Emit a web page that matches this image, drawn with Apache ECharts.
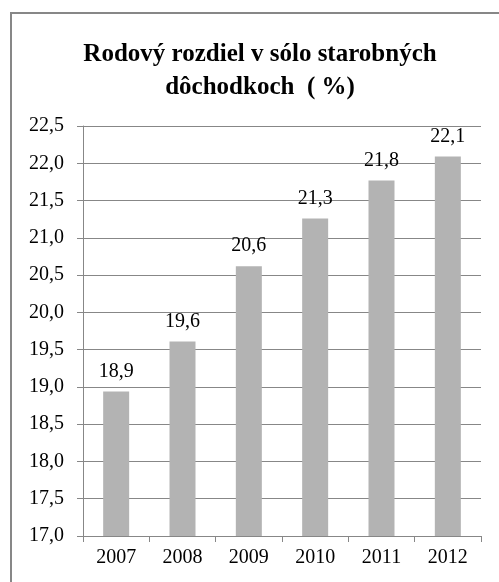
<!DOCTYPE html>
<html>
	<head>
		<meta charset="utf-8">
		<title></title>
		<script src="https://cdn.jsdelivr.net/npm/echarts@6/dist/echarts.min.js"></script>
		<style>
			html, body { margin: 0; padding: 0; background: #fff; }
			.chart { width: 499px; height: 582px; }
		</style>
	</head>
	<body>
		<div class="chart"></div>
		<script>
			var years = ['2007', '2008', '2009', '2010', '2011', '2012'];
			var gap = [18.94, 19.61, 20.62, 21.26, 21.77, 22.09];
			var titleText = 'Rodový rozdiel v sólo starobných\ndôchodkoch  ( %)';

			function comma(v, d) {
				return v.toFixed(d).replace('.', ',');
			}

			var myChart = echarts.init(document.querySelector('.chart'));
			myChart.setOption({
				animation: false,
				textStyle: { fontFamily: 'Liberation Serif' },
				graphic: [{
					type: 'rect',
					shape: { x: 11, y: 13, width: 600, height: 600 },
					style: { fill: 'none', stroke: '#878787', lineWidth: 2 }
				}],
				title: {
					text: titleText,
					left: 255,
					top: 33,
					textAlign: 'center',
					textStyle: {
						fontFamily: 'Liberation Serif',
						fontSize: 25,
						fontWeight: 'bold',
						color: '#000',
						lineHeight: 33
					}
				},
				grid: { left: 83, right: 18, top: 126, bottom: 46 },
				xAxis: {
					type: 'category',
					data: years,
					axisLine: { lineStyle: { color: '#878787', width: 1 } },
					axisTick: { show: true, length: 6, lineStyle: { color: '#878787' } },
					axisLabel: { color: '#000', fontSize: 20, margin: 12 }
				},
				yAxis: {
					type: 'value',
					min: 17,
					max: 22.5,
					interval: 0.5,
					axisLine: { show: true, lineStyle: { color: '#878787', width: 1 } },
					axisTick: { show: true, length: 6, lineStyle: { color: '#878787' } },
					splitLine: { lineStyle: { color: '#878787', width: 1 } },
					axisLabel: {
						color: '#000',
						fontSize: 20,
						margin: 19,
						formatter: function (v) { return comma(v, 1); }
					}
				},
				series: [{
					type: 'bar',
					data: gap,
					barWidth: 26,
					itemStyle: { color: '#b3b3b3' },
					label: {
						show: true,
						position: 'top',
						distance: 10,
						color: '#000',
						fontSize: 20,
						formatter: function (p) { return comma(p.value, 1); }
					}
				}]
			});
		</script>
	</body>
</html>
